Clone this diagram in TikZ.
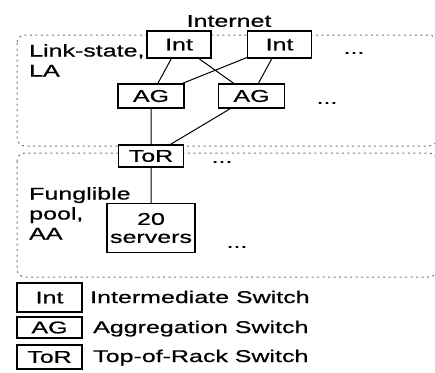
\documentclass[tikz,border=0pt]{standalone}
\usepackage{fontspec}
\setmainfont{Liberation Sans}[FakeStretch=1.47,FakeBold=0.6]
\begin{document}
\begin{tikzpicture}[x=1pt,y=-1pt,font=\fontsize{17}{20}\selectfont,
    sw/.style={draw,fill=white,line width=1.1pt,inner sep=0pt,minimum width=65pt,minimum height=24pt},
    grp/.style={draw=black!55,line width=1pt,dash pattern=on 2pt off 3.5pt,rounded corners=8pt},
    txt/.style={inner sep=0pt}]
            \useasboundingbox (0,0) rectangle (435,372);
            % the two groups
            \draw[grp] (17,35) rectangle (437,146);
            \draw[grp] (17,153) rectangle (437,277);
            \node[txt,anchor=north west,align=left] (la) at (29,44) {Link-state,\\LA};
            \node[txt,anchor=north west,align=left] (aa) at (29,187) {Funglible\\pool,\\AA};
            \node[txt] (inet) at (229,21) {Internet};
            % switches
            \node[sw,minimum width=64pt,minimum height=27pt] (int1) at (179,44.5) {Int};
            \node[sw,minimum width=64pt,minimum height=27pt] (int2) at (279.5,44.5) {Int};
            \node[sw,minimum width=66pt] (ag1) at (151,96) {AG};
            \node[sw,minimum width=66pt] (ag2) at (251.5,96) {AG};
            \node[sw,minimum height=22pt] (tor) at (151,156) {ToR};
            \node[sw,minimum width=88pt,minimum height=49pt,align=center,font=\fontsize{17}{18}\selectfont] (srv) at (151,228) {20\\servers};
            \draw[line width=1pt] (int1)--(ag1) (int1)--(ag2) (int2)--(ag1) (int2)--(ag2);
            \draw[line width=1pt] (ag1)--(tor) (ag2)--(tor) (tor)--(srv);
            \node[txt] (dots1) at (354,53) {...};
            \node[txt] (dots2) at (327,103) {...};
            \node[txt] (dots3) at (222,162) {...};
            \node[txt] (dots4) at (237,247) {...};
            % legend
            \node[sw,minimum height=29pt] (kint) at (49.5,297.5) {Int};
            \node[sw,minimum height=21pt] (kag) at (49.5,327.5) {AG};
            \node[sw] (ktor) at (49.5,357) {ToR};
            \node[txt,anchor=base west] (lint) at (90,303) {Intermediate Switch};
            \node[txt,anchor=base west] (lag) at (93,333) {Aggregation Switch};
            \node[txt,anchor=base west] (ltor) at (93,362) {Top-of-Rack Switch};
        \end{tikzpicture}
\end{document}
